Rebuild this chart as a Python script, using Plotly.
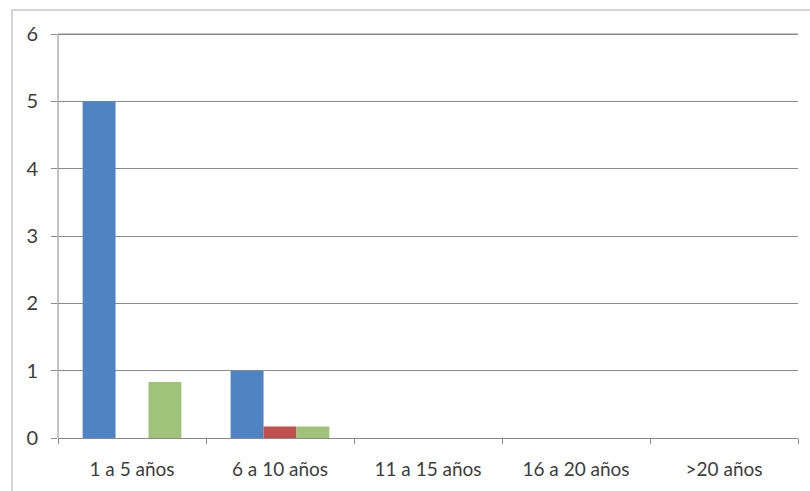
import plotly.graph_objects as go

# Rangos de antigüedad (eje de categorías)
categorias = ["1 a 5 años", "6 a 10 años", "11 a 15 años", "16 a 20 años", ">20 años"]

# Valores por serie
serie_1 = [5, 1, 0, 0, 0]
serie_2 = [0, 0.17, 0, 0, 0]
serie_3 = [0.83, 0.17, 0, 0, 0]

colores = ["#4f84c4", "#c0504d", "#9fc479"]
nombres = ["Serie 1", "Serie 2", "Serie 3"]

fig = go.Figure()
for nombre, valores, color in zip(nombres, [serie_1, serie_2, serie_3], colores):
    fig.add_trace(go.Bar(
        x=categorias, y=valores, name=nombre,
        marker=dict(color=color, line=dict(width=0)),
    ))

W, H = 810, 491
ml, mr, mt, mb = 58, 12, 31, 53
pw, ph = W - ml - mr, H - mt - mb

fig.update_layout(
    width=W, height=H,
    margin=dict(l=ml, r=mr, t=mt, b=mb),
    paper_bgcolor="white", plot_bgcolor="white",
    barmode="group", bargap=0.333, bargroupgap=0,
    showlegend=False,
    font=dict(family="Lato, Open Sans, sans-serif", size=19, color="#3d3d3d"),
    xaxis=dict(
        showgrid=False, showline=True,
        linecolor="#8a8a8a", linewidth=1,
        ticks="outside", tickson="boundaries", ticklen=5, tickcolor="#8a8a8a",
        tickfont=dict(size=19), ticklabelstandoff=14,
    ),
    yaxis=dict(
        # un poco de holgura sobre 6 para que se dibuje su línea de cuadrícula
        range=[0, 6.045], tickvals=[0, 1, 2, 3, 4, 5, 6],
        showgrid=True, gridcolor="#8c8c8c", gridwidth=1,
        showline=False,
        ticks="outside", ticklen=6, tickcolor="#8c8c8c",
        zeroline=False, tickfont=dict(size=20), ticklabelstandoff=9,
    ),
    shapes=[
        # Línea superior en 6, reforzada sobre la cuadrícula
        dict(type="line", xref="paper", yref="y", x0=0, x1=1, y0=6, y1=6,
             line=dict(color="#8c8c8c", width=1.2), layer="above"),
        # Eje vertical desde 0 hasta 6
        dict(type="line", xref="paper", yref="y", x0=0, x1=0, y0=0, y1=6,
             line=dict(color="#8a8a8a", width=1)),
        # Marco exterior del gráfico
        dict(type="rect", xref="paper", yref="paper",
             x0=(12 - ml) / pw, x1=(830 - ml) / pw,
             y0=(H - mb - 495) / ph, y1=(H - mb - 10) / ph,
             line=dict(color="#c8c8c8", width=1.5), layer="below"),
    ],
)

fig.write_html("out.html")
